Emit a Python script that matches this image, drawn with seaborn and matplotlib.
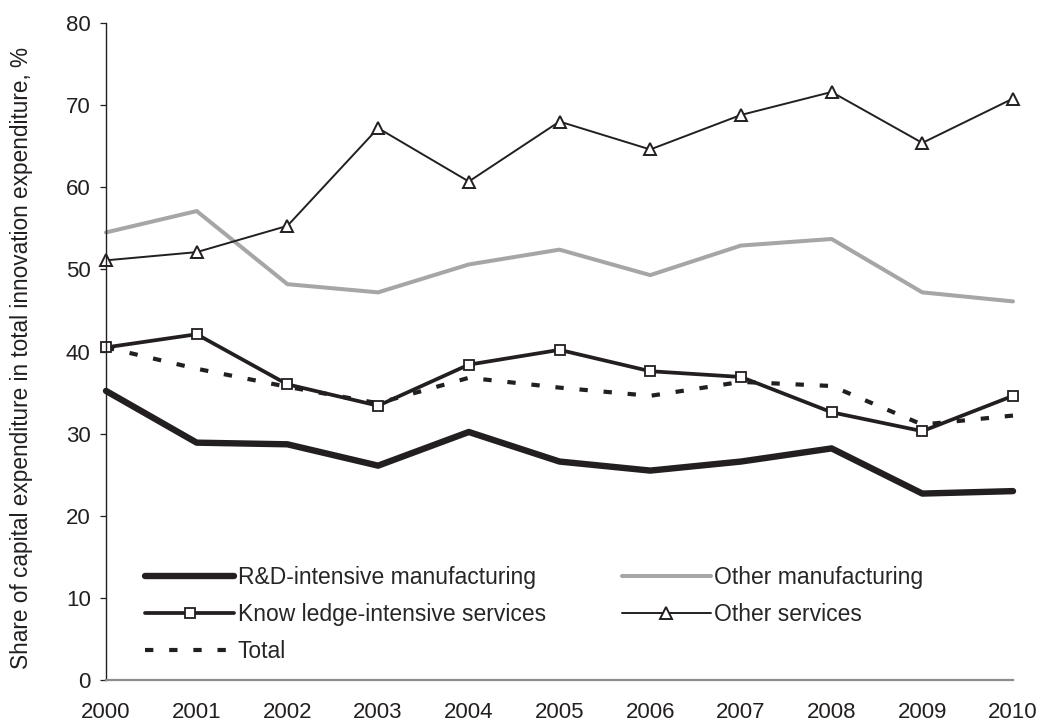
import matplotlib
matplotlib.use("Agg")
import matplotlib.pyplot as plt
import seaborn as sns

# --- data ---
years = [2000, 2001, 2002, 2003, 2004, 2005, 2006, 2007, 2008, 2009, 2010]
rd_manuf = [35.2, 28.9, 28.7, 26.1, 30.2, 26.6, 25.5, 26.6, 28.2, 22.7, 23.0]
other_manuf = [54.5, 57.1, 48.2, 47.2, 50.6, 52.4, 49.3, 52.9, 53.7, 47.2, 46.1]
kis = [40.5, 42.1, 36.0, 33.4, 38.4, 40.2, 37.6, 36.9, 32.6, 30.3, 34.6]
other_serv = [51.1, 52.1, 55.3, 67.2, 60.7, 68.0, 64.6, 68.8, 71.6, 65.4, 70.8]
total = [40.5, 37.9, 35.7, 33.7, 36.8, 35.6, 34.6, 36.3, 35.8, 31.1, 32.2]

ink = "#231f20"

sns.set_theme(style="white")
plt.rcParams["font.family"] = ["Liberation Sans", "DejaVu Sans"]

fig = plt.figure(figsize=(10.41, 7.24), dpi=100)
ax = fig.add_axes([106 / 1041, 44 / 724, 907 / 1041, 657 / 724])

h_rd = sns.lineplot(x=years, y=rd_manuf, ax=ax, color=ink, lw=4.6,
                    label="R&D-intensive manufacturing").lines[-1]
h_om = sns.lineplot(x=years, y=other_manuf, ax=ax, color="#a6a6a6", lw=2.9,
                    label="Other manufacturing").lines[-1]
h_tot = sns.lineplot(x=years, y=total, ax=ax, color=ink, lw=3.0,
                     label="Total").lines[-1]
h_tot.set_dashes((2.0, 3.8))
h_tot.set_dash_capstyle("butt")
h_kis = sns.lineplot(x=years, y=kis, ax=ax, color=ink, lw=2.7, marker="s",
                     markersize=7.2, markerfacecolor="white", markeredgecolor=ink,
                     markeredgewidth=1.3, label="Know ledge-intensive services").lines[-1]
h_os = sns.lineplot(x=years, y=other_serv, ax=ax, color=ink, lw=1.4, marker="^",
                    markersize=8.5, markerfacecolor="white", markeredgecolor=ink,
                    markeredgewidth=1.4, label="Other services").lines[-1]
for ln in ax.lines:
    ln.set_clip_on(False)

ax.set_xlim(2000, 2010)
ax.set_ylim(0, 80)
ax.set_xticks(years)
ax.set_xticklabels([str(y) for y in years])
ax.set_yticks(range(0, 81, 10))

for s in ["top", "right"]:
    ax.spines[s].set_visible(False)
ax.spines["left"].set_color(ink)
ax.spines["left"].set_linewidth(1.0)
ax.spines["bottom"].set_color("#8c8c8c")
ax.spines["bottom"].set_linewidth(1.6)
ax.tick_params(axis="y", direction="out", length=4, width=0.9, color=ink,
               labelsize=16, labelcolor=ink, pad=7, left=True)
ax.tick_params(axis="x", length=0, labelsize=16, labelcolor=ink, pad=16)

ax.set_ylabel("Share of capital expenditure in total innovation expenditure, %",
              fontsize=16.3, color=ink)
ax.yaxis.set_label_coords(-0.08, 0.49)
ax.set_xlabel("")

handles = [h_rd, h_kis, h_tot, h_om, h_os]
labels = ["R&D-intensive manufacturing", "Know ledge-intensive services", "Total",
          "Other manufacturing", "Other services"]
ax.legend(handles, labels, ncol=2, frameon=False, loc="upper left",
          bbox_to_anchor=(0.043, 0.174), handlelength=3.9, handletextpad=0.15,
          labelspacing=0.62, columnspacing=3.3, borderpad=0, borderaxespad=0,
          prop={"size": 16.5})

fig.savefig("out.png", dpi=100)
